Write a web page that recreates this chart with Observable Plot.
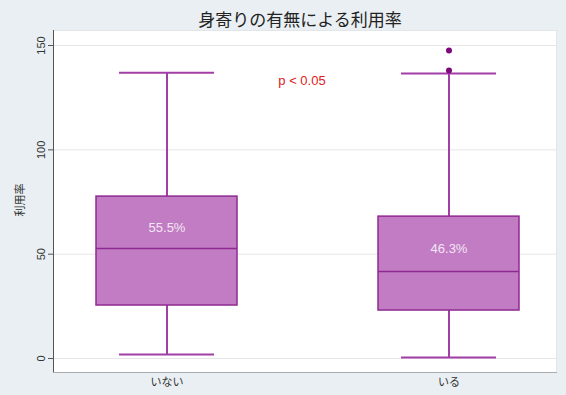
<!DOCTYPE html>
<html><head><meta charset="utf-8">
<script src="https://cdn.jsdelivr.net/npm/d3@7"></script>
<script src="https://cdn.jsdelivr.net/npm/@observablehq/plot@0.6"></script>
<style>
body{margin:0;background:#e9eff2;}
#chart svg{background:#e9eff2;font-family:"Liberation Sans","Noto Sans CJK JP",sans-serif;}
</style></head>
<body><div id="chart"></div>
<script>
const groups = ["いない", "いる"];
const whiskerLow = [1.9, 0.5];
const q1 = [25.4, 23.0];
const median = [52.7, 41.7];
const q3 = [77.6, 68.0];
const whiskerHigh = [137.0, 136.6];
const rateLabels = ["55.5%", "46.3%"];
const outlierGroup = ["いる", "いる"];
const outlierValue = [147.6, 138.0];
const yTicks = [0, 50, 100, 150];
const title = "身寄りの有無による利用率";
const yLabel = "利用率";
const note = "p < 0.05";

const boxes = groups.map((g, i) => ({g, lo: whiskerLow[i], q1: q1[i], med: median[i], q3: q3[i], hi: whiskerHigh[i], label: rateLabels[i], mid: (median[i] + q3[i]) / 2}));
const outliers = outlierGroup.map((g, i) => ({g, v: outlierValue[i]}));

const boxStroke = "#8e2a91";
const whiskerColor = "#a23fa6";

const chart = Plot.plot({
  width: 566, height: 395,
  marginLeft: 53, marginRight: 10, marginTop: 30, marginBottom: 23,
  style: {fontFamily: '"Liberation Sans","Noto Sans CJK JP",sans-serif', background: "#e9eff2"},
  x: {type: "band", domain: groups, range: [25.5, 589.5], paddingInner: 0.5, paddingOuter: 0.25, label: null},
  y: {domain: [-6.7, 157.2], label: null},
  marks: [
    Plot.frame({fill: "white", stroke: "#e2e6e8"}),
    Plot.ruleY(yTicks, {stroke: "#e6e6e6", strokeWidth: 1}),
    Plot.frame({anchor: "left", stroke: "#555"}),
    Plot.frame({anchor: "bottom", stroke: "#aaa"}),
    Plot.axisY(yTicks, {tickSize: 5, tickPadding: 4, tickRotate: -90, fontSize: 11, fill: "#333", stroke: "#555", label: null}),
    Plot.axisX({tickSize: 0, tickPadding: 6, fontSize: 11, fill: "#333", label: null}),
    Plot.text([yLabel], {frameAnchor: "left", dx: -33, dy: 15, rotate: -90, fontSize: 11, fill: "#333"}),
    Plot.text([title], {frameAnchor: "top", dy: -17, fontSize: 17, fill: "#222", dx: -5}),
    Plot.ruleX(boxes, {x: "g", y1: "lo", y2: "q1", stroke: whiskerColor, strokeWidth: 2}),
    Plot.ruleX(boxes, {x: "g", y1: "q3", y2: "hi", stroke: whiskerColor, strokeWidth: 2}),
    Plot.tickY(boxes, {x: "g", y: "lo", stroke: whiskerColor, strokeWidth: 2, insetLeft: 23, insetRight: 23}),
    Plot.tickY(boxes, {x: "g", y: "hi", stroke: whiskerColor, strokeWidth: 2, insetLeft: 23, insetRight: 23}),
    Plot.barY(boxes, {x: "g", y1: "q1", y2: "q3", fill: "#c17cc3", stroke: boxStroke, strokeWidth: 1.5}),
    Plot.tickY(boxes, {x: "g", y: "med", stroke: boxStroke, strokeWidth: 1.5}),
    Plot.text(boxes, {x: "g", y: "mid", text: "label", fill: "#f4e6f4", fontSize: 13, dy: 5}),
    Plot.dot(outliers, {x: "g", y: "v", r: 3, fill: "#7d0a7d", stroke: "none"}),
    Plot.text([note], {frameAnchor: "top", dy: 45, dx: -3, fill: "#e0201a", fontSize: 13})
  ]
});
document.getElementById("chart").append(chart);
</script></body></html>
